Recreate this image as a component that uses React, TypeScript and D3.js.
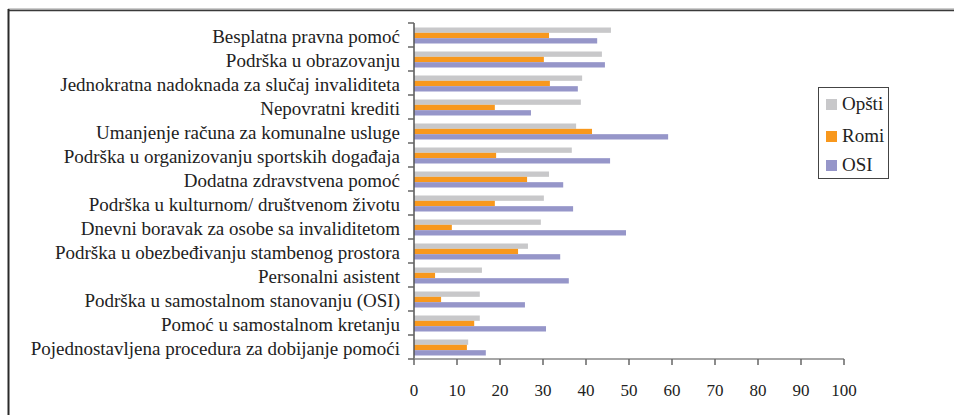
import React from 'react';
import * as d3 from 'd3';

const categories = [
  'Besplatna pravna pomoć',
  'Podrška u obrazovanju ',
  'Jednokratna nadoknada za slučaj invaliditeta',
  'Nepovratni krediti',
  'Umanjenje računa za komunalne usluge',
  'Podrška u organizovanju sportskih događaja',
  'Dodatna zdravstvena pomoć',
  'Podrška u kulturnom/ društvenom životu',
  'Dnevni boravak za osobe sa invaliditetom',
  'Podrška u obezbeđivanju stambenog prostora',
  'Personalni asistent',
  'Podrška u samostalnom stanovanju (OSI)',
  'Pomoć u samostalnom kretanju',
  'Pojednostavljena procedura za dobijanje pomoći',
];

const series = ['Opšti', 'Romi', 'OSI'];
const colors = ['#C8C8CA', '#F8981D', '#9696C9'];

const opsti = [45.8, 43.7, 39.1, 38.8, 37.7, 36.7, 31.4, 30.2, 29.5, 26.5, 15.8, 15.3, 15.3, 12.6];
const romi = [31.4, 30.2, 31.6, 18.8, 41.4, 19.1, 26.3, 18.8, 8.8, 24.2, 4.9, 6.3, 14.0, 12.3];
const osi = [42.6, 44.4, 38.1, 27.2, 59.1, 45.6, 34.7, 37.0, 49.3, 34.0, 36.0, 25.8, 30.7, 16.7];

const xTicks = [0, 10, 20, 30, 40, 50, 60, 70, 80, 90, 100];

const values = [opsti, romi, osi];

export default function App() {
  const width = 954;
  const height = 415;

  const x = d3.scaleLinear().domain([0, 100]).range([414, 844]);
  const y = d3.scaleBand<string>().domain(categories).range([23, 359]).padding(0);
  const inner = d3
    .scaleBand<string>()
    .domain(series)
    .range([4.5, y.bandwidth() - 3.5])
    .padding(0);

  // serif, like the original Word/Excel chart
  const txt = { fontFamily: "'Liberation Serif', 'Times New Roman', serif" };

  return (
    <svg
      width={width}
      height={height}
      style={{ position: 'absolute', left: 0, top: 0, background: '#fff' }}
    >
      {/* outer frame */}
      <line x1={8} y1={9} x2={width} y2={9} stroke="#9a9a9a" strokeWidth={1} />
      <line x1={8} y1={10.5} x2={width} y2={10.5} stroke="#3a3a3a" strokeWidth={1.5} />
      <line x1={8.5} y1={9} x2={8.5} y2={height} stroke="#2a2a2a" strokeWidth={2} />

      {/* bars */}
      {categories.map((c, i) => (
        <g key={c} transform={`translate(0,${y(c)})`}>
          {series.map((s, j) => (
            <rect
              key={s}
              x={x(0)}
              y={inner(s)}
              width={x(values[j][i]) - x(0)}
              height={inner.bandwidth()}
              fill={colors[j]}
            />
          ))}
        </g>
      ))}

      {/* y axis */}
      <line x1={414} y1={23} x2={414} y2={359} stroke="#555" strokeWidth={1.5} />
      {categories.map((c) => (
        <line key={c} x1={408} x2={414} y1={y(c)!} y2={y(c)!} stroke="#666" strokeWidth={1.5} />
      ))}
      <line x1={408} x2={414} y1={359} y2={359} stroke="#666" strokeWidth={1.5} />
      {categories.map((c) => (
        <text
          key={c}
          x={400}
          y={y(c)! + y.bandwidth() / 2 + 7.5}
          textAnchor="end"
          style={txt}
          fontSize={19}
          fill="#222"
        >
          {c}
        </text>
      ))}

      {/* x axis */}
      <line x1={414} y1={359} x2={844} y2={359} stroke="#888" strokeWidth={1.5} />
      {xTicks.map((t) => (
        <g key={t}>
          <line x1={x(t)} x2={x(t)} y1={359} y2={365} stroke="#666" strokeWidth={1.5} />
          <text x={x(t)} y={396} textAnchor="middle" style={txt} fontSize={17} fill="#222">
            {t}
          </text>
        </g>
      ))}

      {/* legend */}
      <rect x={818.5} y={87.5} width={70} height={91} fill="#fff" stroke="#444" strokeWidth={1} />
      {series.map((s, j) => (
        <g key={s} transform={`translate(826,${[99, 131, 160][j]})`}>
          <rect x={0} y={0} width={11} height={11} fill={colors[j]} />
          <text x={16} y={11} style={txt} fontSize={19} fill="#222">
            {s}
          </text>
        </g>
      ))}
    </svg>
  );
}
